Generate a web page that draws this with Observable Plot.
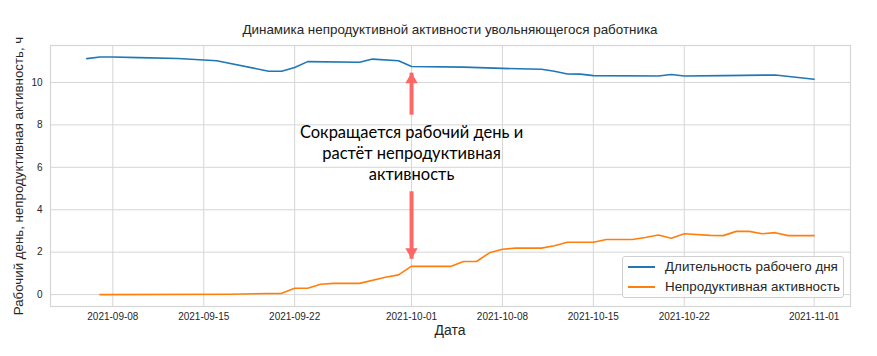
<!DOCTYPE html>
<html>
<head>
<meta charset="utf-8">
<script src="https://cdn.jsdelivr.net/npm/d3@7"></script>
<script src="https://cdn.jsdelivr.net/npm/@observablehq/plot@0.6"></script>
<style>
  html, body { margin: 0; padding: 0; background: #fff; }
  #wrap { position: relative; width: 877px; height: 356px; overflow: hidden; font-family: "Liberation Sans", Arial, sans-serif; color: #262626; }
  #wrap svg { position: absolute; left: 0; top: 0; }
  .abs { position: absolute; white-space: nowrap; }
  #title { left: 450px; top: 29px; transform: translate(-50%, -50%); font-size: 13.4px; color: #262626; }
  #xlabel { left: 450px; top: 330px; transform: translate(-50%, -50%); font-size: 14px; }
  #ylabel { left: 18px; top: 176px; transform: translate(-50%, -50%) rotate(-90deg); font-size: 13.3px; }
  #legend { left: 622px; top: 256px; width: 222px; height: 42px; border: 1px solid #d0d0d0; border-radius: 3px; background: rgba(255,255,255,0.8); box-sizing: border-box; }
  .item { position: absolute; left: 0; height: 20px; font-size: 13.4px; line-height: 20px; }
  .sw { position: absolute; left: 5px; top: 9px; width: 27px; height: 2px; }
  .lab { position: absolute; left: 42px; top: 0; white-space: nowrap; }
</style>
</head>
<body>
<div id="wrap"></div>
<script>
// ---- data ----
const blueDates = ["2021-09-06","2021-09-07","2021-09-08","2021-09-10","2021-09-13","2021-09-16","2021-09-20","2021-09-21","2021-09-22","2021-09-23","2021-09-27","2021-09-28","2021-09-30","2021-10-01","2021-10-05","2021-10-08","2021-10-11","2021-10-12","2021-10-13","2021-10-14","2021-10-15","2021-10-20","2021-10-21","2021-10-22","2021-10-25","2021-10-29","2021-11-01"];
const blueValues = [11.12, 11.2, 11.2, 11.17, 11.13, 11.02, 10.53, 10.53, 10.70, 10.98, 10.95, 11.1, 11.02, 10.75, 10.72, 10.66, 10.62, 10.53, 10.40, 10.39, 10.32, 10.30, 10.37, 10.30, 10.32, 10.35, 10.15];

const orangeDates = ["2021-09-07","2021-09-17","2021-09-21","2021-09-22","2021-09-23","2021-09-24","2021-09-25","2021-09-27","2021-09-29","2021-09-30","2021-10-01","2021-10-04","2021-10-05","2021-10-06","2021-10-07","2021-10-08","2021-10-09","2021-10-11","2021-10-12","2021-10-13","2021-10-15","2021-10-16","2021-10-18","2021-10-19","2021-10-20","2021-10-21","2021-10-22","2021-10-24","2021-10-25","2021-10-26","2021-10-27","2021-10-28","2021-10-29","2021-10-30","2021-11-01"];
const orangeValues = [0.0, 0.02, 0.06, 0.30, 0.30, 0.49, 0.53, 0.53, 0.82, 0.93, 1.34, 1.33, 1.56, 1.56, 1.97, 2.14, 2.19, 2.19, 2.30, 2.47, 2.47, 2.60, 2.60, 2.69, 2.81, 2.66, 2.87, 2.79, 2.78, 2.98, 2.98, 2.87, 2.92, 2.78, 2.78];

const seriesNames = ["Длительность рабочего дня", "Непродуктивная активность"];
const seriesColors = ["#1f77b4", "#ff7f0e"];

const xTicks = ["2021-09-08","2021-09-15","2021-09-22","2021-10-01","2021-10-08","2021-10-15","2021-10-22","2021-11-01"];
const yTicks = [0, 2, 4, 6, 8, 10];

const titleText = "Динамика непродуктивной активности увольняющегося работника";
const xLabel = "Дата";
const yLabel = "Рабочий день, непродуктивная активность, ч";

const noteText = "Сокращается рабочий день и\nрастёт непродуктивная\nактивность";
const noteDate = "2021-10-01";
const noteY = 6.72;
const arrowUp = [8.48, 10.46];   // tail, tip
const arrowDown = [4.87, 1.69];  // tail, tip

// ---- build ----
const parse = s => new Date(s + "T00:00:00Z");
const blue = blueDates.map((d, i) => ({date: parse(d), value: blueValues[i]}));
const orange = orangeDates.map((d, i) => ({date: parse(d), value: orangeValues[i]}));
const nd = parse(noteDate);
const arrowColor = "#ff6666";
const fmt = d3.utcFormat("%Y-%m-%d");

const chart = Plot.plot({
  width: 877, height: 356,
  marginLeft: 50, marginRight: 27, marginTop: 45, marginBottom: 50,
  style: {fontFamily: "'Liberation Sans', Arial, sans-serif", color: "#262626", background: "transparent"},
  x: {type: "utc", domain: [new Date("2021-09-03T04:48:00Z"), new Date("2021-11-03T19:12:00Z")]},
  y: {domain: [-0.56, 11.74]},
  marks: [
    Plot.gridX(xTicks.map(parse), {stroke: "#d6d6d6", strokeOpacity: 1, strokeWidth: 1}),
    Plot.gridY(yTicks, {stroke: "#d6d6d6", strokeOpacity: 1, strokeWidth: 1}),
    Plot.frame({stroke: "#d6d6d6", strokeWidth: 1.2}),
    Plot.axisX(xTicks.map(parse), {tickSize: 0, tickPadding: 6, fontSize: 10, label: null, tickFormat: fmt}),
    Plot.axisY(yTicks, {tickSize: 0, tickPadding: 8, fontSize: 10, label: null}),
    Plot.lineY(blue, {x: "date", y: "value", stroke: seriesColors[0], strokeWidth: 1.6}),
    Plot.lineY(orange, {x: "date", y: "value", stroke: seriesColors[1], strokeWidth: 1.6}),
    // arrows
    Plot.link([{x: nd, a: arrowUp[0], b: arrowUp[1]}], {x1: "x", x2: "x", y1: "a", y2: "b", stroke: arrowColor, strokeWidth: 4}),
    Plot.link([{x: nd, a: arrowDown[0], b: arrowDown[1]}], {x1: "x", x2: "x", y1: "a", y2: "b", stroke: arrowColor, strokeWidth: 4}),
    Plot.dot([{x: nd, y: arrowUp[1]}], {x: "x", y: "y", symbol: "triangle", r: 4.6, fill: arrowColor, stroke: "none", dy: 7}),
    Plot.dot([{x: nd, y: arrowDown[1]}], {x: "x", y: "y", symbol: "triangle", r: 4.6, fill: arrowColor, stroke: "none", rotate: 180, dy: -7}),
    Plot.text([{x: nd, y: noteY, t: noteText}], {x: "x", y: "y", text: "t", fontFamily: "Lato, 'Open Sans', sans-serif", fontSize: 16.5, fill: "#000", lineHeight: 1.28})
  ]
});

const wrap = document.getElementById("wrap");
wrap.appendChild(chart);

function addDiv(id, text) {
  const d = document.createElement("div");
  d.id = id; d.className = "abs"; d.textContent = text;
  wrap.appendChild(d);
  return d;
}
addDiv("title", titleText);
addDiv("xlabel", xLabel);
addDiv("ylabel", yLabel);

const leg = addDiv("legend", "");
seriesNames.forEach((name, i) => {
  const it = document.createElement("div");
  it.className = "item";
  it.style.top = (i * 20) + "px";
  it.style.width = "100%";
  const sw = document.createElement("div");
  sw.className = "sw"; sw.style.background = seriesColors[i];
  const lb = document.createElement("div");
  lb.className = "lab"; lb.textContent = name;
  it.appendChild(sw); it.appendChild(lb);
  leg.appendChild(it);
});
</script>
</body>
</html>
